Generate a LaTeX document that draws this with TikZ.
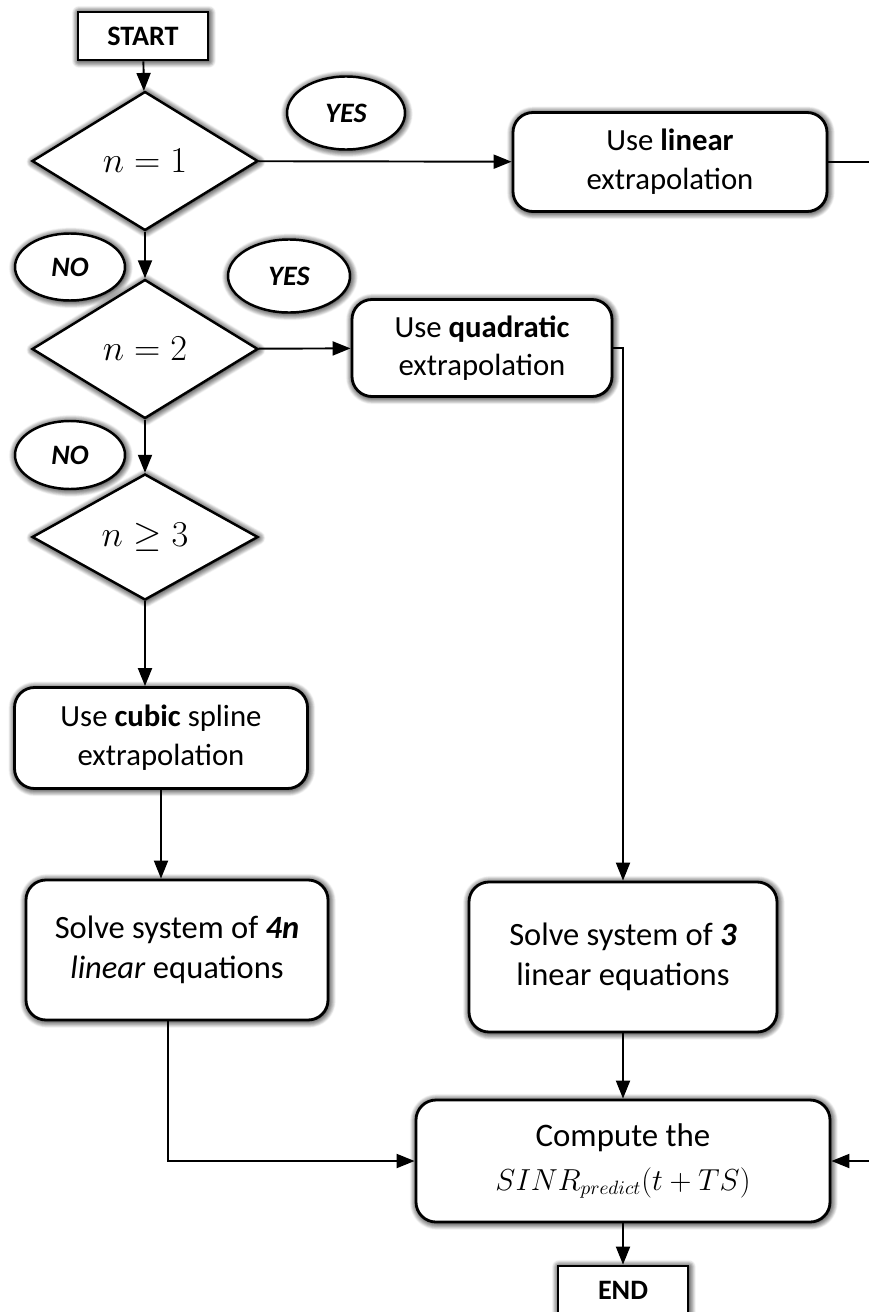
\documentclass[tikz,border=0pt]{standalone}
\usepackage{fontspec}
\setmainfont{Carlito}
\usetikzlibrary{shapes.geometric,arrows.meta,shadows.blur}

\begin{document}
\begin{tikzpicture}[
    font=\fontsize{17.5}{22}\selectfont,
    >={Triangle[length=3.6mm,width=2.8mm]},
    glow/.style={blur shadow={shadow xshift=1pt,shadow yshift=-1pt,shadow blur radius=6pt,shadow blur steps=12,shadow opacity=90},
      blur shadow={shadow xshift=0.5pt,shadow yshift=-0.5pt,shadow blur radius=4pt,shadow blur steps=10,shadow opacity=70}},
    term/.style={draw,line width=1.6pt,fill=white,glow,minimum height=0.96cm,minimum width=2.6cm,font=\fontsize{16}{20}\selectfont\bfseries},
    decide/.style={diamond,draw,line width=1.4pt,fill=white,glow,inner sep=0pt,minimum width=4.52cm,minimum height=2.78cm,font=\fontsize{20.5}{24}\selectfont},
    answer/.style={ellipse,draw,line width=1.4pt,fill=white,glow,inner sep=0pt,font=\fontsize{16}{19}\selectfont\bfseries\itshape},
    step box/.style={draw,rounded corners=0.4cm,line width=1.6pt,fill=white,glow,align=center},
    every path/.style={line width=1.1pt}
  ]
    \useasboundingbox (0,0) rectangle (17.38,-26.24);
    \node[term] (v1) at (2.86,-0.72) {START};
    \node[decide] (v2) at (2.9,-3.22) {$n=1$};
    \node[answer,minimum width=2.36cm,minimum height=1.46cm] (v3) at (6.92,-2.26) {YES};
    \node[step box,minimum width=6.28cm,minimum height=1.98cm] (v4) at (13.4,-3.24) {Use \textbf{linear}\\extrapolation};
    \node[answer,minimum width=2.2cm,minimum height=1.34cm] (v5) at (1.4,-5.34) {NO};
    \node[answer,minimum width=2.44cm,minimum height=1.46cm] (v6) at (5.78,-5.52) {YES};
    \node[decide] (v7) at (2.9,-6.98) {$n=2$};
    \node[step box,minimum width=5.2cm,minimum height=1.94cm] (v8) at (9.64,-6.96) {Use \textbf{quadratic}\\extrapolation};
    \node[answer,minimum width=2.2cm,minimum height=1.36cm] (v9) at (1.4,-9.1) {NO};
    \node[decide,minimum height=2.52cm] (v10) at (2.9,-10.74) {$n\geq 3$};
    \node[step box,minimum width=5.86cm,minimum height=2.02cm] (v11) at (3.22,-14.76) {Use \textbf{cubic} spline\\extrapolation};
    \node[step box,minimum width=6.04cm,minimum height=2.8cm,font=\fontsize{18.5}{23}\selectfont] (v12) at (3.54,-19.0) {Solve system of \textbf{\textit{4n}}\\\textit{linear} equations};
    \node[step box,minimum width=6.16cm,minimum height=3.0cm,font=\fontsize{18.5}{23}\selectfont] (v13) at (12.46,-19.14) {Solve system of \textbf{\textit{3}}\\linear equations};
    \node[step box,minimum width=8.28cm,minimum height=2.44cm,font=\fontsize{18.7}{23}\selectfont] (v14) at (12.46,-23.22) {Compute the\\[2pt]{\fontsize{16.3}{20}\selectfont$SINR_{predict}(t+TS)$}};
    \node[term] (v15) at (12.46,-25.8) {END};
    \coordinate (c1) at (18,-3.24);
    \coordinate (c2) at (18,-23.22);
    \draw[->] (v1) -- (v2);
    \draw[->] (v2) -- (v4);
    \draw (v4) -- (c1) -- (c2);
    \draw[->] (c2) -- (v14);
    \draw[->] (v2) -- (v7);
    \draw[->] (v7) -- (v8);
    \draw[->] (v8.east) -| (v13.north);
    \draw[->] (v7) -- (v10);
    \draw[->] (v10) -- (v11.north -| v10.south);
    \draw[->] (v11) -- (v12.north -| v11.south);
    \draw[->] ([xshift=-0.18cm]v12.south) |- (v14.west);
    \draw[->] (v13) -- (v14);
    \draw[->] (v14) -- (v15);
  \end{tikzpicture}
\end{document}
